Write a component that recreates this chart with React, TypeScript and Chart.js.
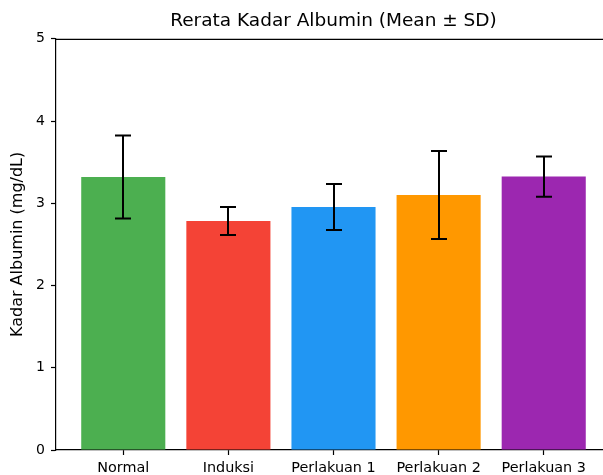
import React, { useEffect, useRef } from "react";
import { Chart, registerables } from "chart.js";

Chart.register(...registerables);

// ---- data ----
const categories = ["Normal", "Induksi", "Perlakuan 1", "Perlakuan 2", "Perlakuan 3"];
const means = [3.32, 2.785, 2.955, 3.1, 3.325];
const sds = [0.505, 0.17, 0.28, 0.535, 0.245];
const barColors = ["#4CAF50", "#F44336", "#2196F3", "#FF9800", "#9C27B0"];
const yTickValues = [0, 1, 2, 3, 4, 5];
const titleText = "Rerata Kadar Albumin (Mean \u00B1 SD)";
const yAxisLabel = "Kadar Albumin (mg/dL)";

const FONT = "'DejaVu Sans', sans-serif";
const CANVAS_W = 620;
const CANVAS_H = 490;

const errorBarPlugin = {
  id: "errorBars",
  afterDatasetsDraw(chart: any) {
    const { ctx } = chart;
    const xs = chart.scales.x;
    const ys = chart.scales.y;
    ctx.save();
    ctx.strokeStyle = "#000";
    ctx.lineWidth = 2;
    const cap = 8;
    means.forEach((m, i) => {
      const x = Math.round(xs.getPixelForValue(i));
      const yT = ys.getPixelForValue(m + sds[i]);
      const yB = ys.getPixelForValue(m - sds[i]);
      ctx.beginPath();
      ctx.moveTo(x, yT);
      ctx.lineTo(x, yB);
      ctx.moveTo(x - cap, yT);
      ctx.lineTo(x + cap, yT);
      ctx.moveTo(x - cap, yB);
      ctx.lineTo(x + cap, yB);
      ctx.stroke();
    });
    ctx.restore();
  },
};

const framePlugin = {
  id: "frame",
  afterDraw(chart: any) {
    const { ctx, chartArea } = chart;
    const { left, right, top, bottom } = chartArea;
    ctx.save();
    ctx.strokeStyle = "#000";
    ctx.lineWidth = 1.2;
    ctx.beginPath();
    ctx.moveTo(left, top + 0.5);
    ctx.lineTo(right, top + 0.5);
    ctx.moveTo(right - 0.5, top);
    ctx.lineTo(right - 0.5, bottom);
    ctx.stroke();
    // title centred over the axes
    ctx.fillStyle = "#000";
    ctx.font = `18.5px ${FONT}`;
    ctx.textAlign = "center";
    ctx.textBaseline = "middle";
    ctx.fillText(titleText, (left + right) / 2, 21);
    ctx.restore();
  },
};

export default function App() {
  const ref = useRef<HTMLCanvasElement | null>(null);

  useEffect(() => {
    if (!ref.current) return;
    const chart = new Chart(ref.current, {
      type: "bar",
      data: {
        datasets: [
          {
            data: means.map((m, i) => ({ x: i, y: m })),
            backgroundColor: barColors,
            borderWidth: 0,
            barPercentage: 0.8,
            categoryPercentage: 1.0,
          },
        ],
      },
      options: {
        animation: false,
        responsive: false,
        devicePixelRatio: 1,
        layout: { padding: { top: 38.8, right: CANVAS_W - 611, bottom: 0, left: 0 } },
        plugins: {
          legend: { display: false },
          tooltip: { enabled: false },
          title: { display: false },
        },
        scales: {
          x: {
            type: "linear",
            min: -0.64,
            max: 4.64,
            offset: false,
            afterBuildTicks: (scale: any) => {
              scale.ticks = categories.map((_, i) => ({ value: i }));
            },
            afterFit: (scale: any) => {
              scale.height = CANVAS_H - 450;
            },
            ticks: {
              autoSkip: false,
              maxRotation: 0,
              color: "#000",
              padding: 5,
              font: { family: FONT, size: 14.4 },
              callback: (v: any) => categories[v as number] ?? "",
            },
            grid: {
              offset: false,
              drawOnChartArea: false,
              drawTicks: true,
              tickLength: 5,
              tickWidth: 1.2,
              color: "#000",
            },
            border: { display: true, color: "#000", width: 1.2 },
          },
          y: {
            min: 0,
            max: 5,
            afterBuildTicks: (scale: any) => {
              scale.ticks = yTickValues.map((v) => ({ value: v }));
            },
            afterFit: (scale: any) => {
              scale.width = 56;
            },
            ticks: {
              color: "#000",
              padding: 6,
              font: { family: FONT, size: 14 },
              callback: (v: any) => String(v),
            },
            grid: {
              drawOnChartArea: false,
              drawTicks: true,
              tickLength: 5,
              tickWidth: 1.2,
              color: "#000",
            },
            border: { display: true, color: "#000", width: 1.2 },
            title: {
              display: true,
              text: yAxisLabel,
              color: "#000",
              font: { family: FONT, size: 16 },
              padding: { top: 8, bottom: 0 },
            },
          },
        },
      },
      plugins: [errorBarPlugin, framePlugin],
    } as any);
    return () => chart.destroy();
  }, []);

  return (
    <div style={{ position: "fixed", left: 0, top: 0, right: 0, bottom: 0, overflow: "hidden", background: "#fff" }}>
      <canvas ref={ref} width={CANVAS_W} height={CANVAS_H} style={{ display: "block", width: CANVAS_W, height: CANVAS_H }} />
    </div>
  );
}
